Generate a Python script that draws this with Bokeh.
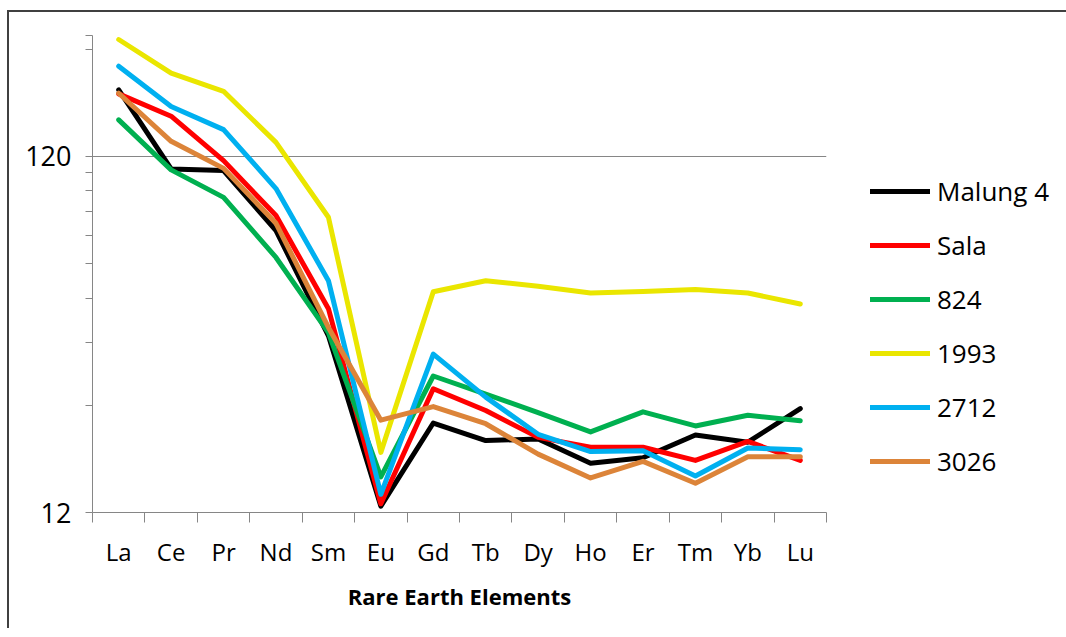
from bokeh.plotting import figure
from bokeh.models import Range1d, FixedTicker, Legend, LegendItem
from bokeh.embed import file_html
from bokeh.resources import INLINE

elements = ["La", "Ce", "Pr", "Nd", "Sm", "Eu", "Gd", "Tb", "Dy", "Ho", "Er", "Tm", "Yb", "Lu"]

malung4 = [184.4, 110.6, 109.4, 74.2, 37.6, 12.5, 21.4, 19.1, 19.3, 16.5, 17.1, 19.8, 18.9, 23.5]
sala = [179.7, 155.5, 116.7, 81.8, 44.8, 12.7, 26.7, 23.2, 19.5, 18.3, 18.3, 16.8, 19.0, 16.8]
s824 = [151.9, 109.9, 92.0, 62.4, 38.4, 15.1, 29.0, 25.8, 22.9, 20.2, 23.0, 21.0, 22.5, 21.7]
s1993 = [255.3, 205.3, 182.7, 131.3, 80.9, 17.7, 50.0, 53.7, 51.8, 49.6, 50.1, 50.7, 49.6, 46.2]
s2712 = [214.8, 165.5, 142.6, 97.4, 53.7, 13.5, 33.4, 25.3, 19.9, 17.8, 17.9, 15.2, 18.2, 18.0]
s3026 = [180.4, 132.2, 111.0, 77.8, 39.7, 21.8, 23.8, 21.3, 17.5, 15.0, 16.7, 14.5, 17.2, 17.2]

series_names = ["Malung 4", "Sala", "824", "1993", "2712", "3026"]
series_values = [malung4, sala, s824, s1993, s2712, s3026]
series_colors = ["#000000", "#FF0000", "#00B050", "#EAE600", "#00B0F0", "#DC8439"]

y_min = 12
y_max = 262
y_major = [12, 120]
y_minor = [24, 36, 48, 60, 72, 84, 96, 108, 240, 262]
x_title = "Rare Earth Elements"

FONT = "Open Sans"
AXIS_GRAY = "#868686"

xs = [i + 0.5 for i in range(len(elements))]

p = figure(frame_width=734, frame_height=477,
           min_border_left=83, min_border_right=240,
           min_border_top=23, min_border_bottom=118,
           y_axis_type="log",
           x_range=Range1d(0, len(elements)),
           y_range=Range1d(y_min, y_max),
           output_backend="svg", toolbar_location=None)
p.outline_line_color = None
p.background_fill_color = "white"
p.border_fill_color = "white"
p.styles = {"margin-left": "9px", "margin-top": "12px",
            "box-shadow": "-2px -2px 0 0 #404040"}

# X axis
xa = p.xaxis[0]
xa.ticker = FixedTicker(ticks=xs, minor_ticks=list(range(len(elements) + 1)))
xa.major_label_overrides = {x: e for x, e in zip(xs, elements)}
xa.major_tick_out = 0
xa.major_tick_in = 0
xa.minor_tick_out = 10
xa.minor_tick_in = 0
xa.minor_tick_line_color = AXIS_GRAY
xa.axis_line_color = AXIS_GRAY
xa.major_label_text_font = FONT
xa.major_label_text_font_size = "24px"
xa.major_label_text_color = "black"
xa.major_label_standoff = 12
xa.axis_label = x_title
xa.axis_label_text_font = FONT
xa.axis_label_text_font_style = "bold"
xa.axis_label_text_font_size = "22px"
xa.axis_label_text_color = "black"
xa.axis_label_standoff = 10

# Y axis
ya = p.yaxis[0]
ya.ticker = FixedTicker(ticks=y_major, minor_ticks=y_minor)
ya.major_label_overrides = {v: str(v) for v in y_major}
ya.major_tick_out = 7
ya.major_tick_in = 0
ya.minor_tick_out = 7
ya.minor_tick_in = 0
ya.major_tick_line_color = AXIS_GRAY
ya.minor_tick_line_color = AXIS_GRAY
ya.axis_line_color = AXIS_GRAY
ya.major_label_text_font = FONT
ya.major_label_text_font_size = "27px"
ya.major_label_text_color = "black"
ya.major_label_standoff = 14

p.xgrid.visible = False
p.ygrid.ticker = FixedTicker(ticks=[120])
p.ygrid.grid_line_color = AXIS_GRAY
p.ygrid.grid_line_width = 1

items = []
for name, vals, col in zip(series_names, series_values, series_colors):
    r = p.line(xs, vals, line_color=col, line_width=5, line_join="round", line_cap="round")
    items.append(LegendItem(label=name, renderers=[r]))

legend = Legend(items=items, location=(44, 33), orientation="vertical",
                glyph_width=60, glyph_height=30, label_height=30, spacing=18,
                padding=0, margin=0, border_line_color=None, background_fill_alpha=0,
                label_text_font=FONT, label_text_font_size="26px", label_standoff=7,
                label_text_color="black")
p.add_layout(legend, "right")

open("out.html", "w").write(file_html(p, INLINE))
